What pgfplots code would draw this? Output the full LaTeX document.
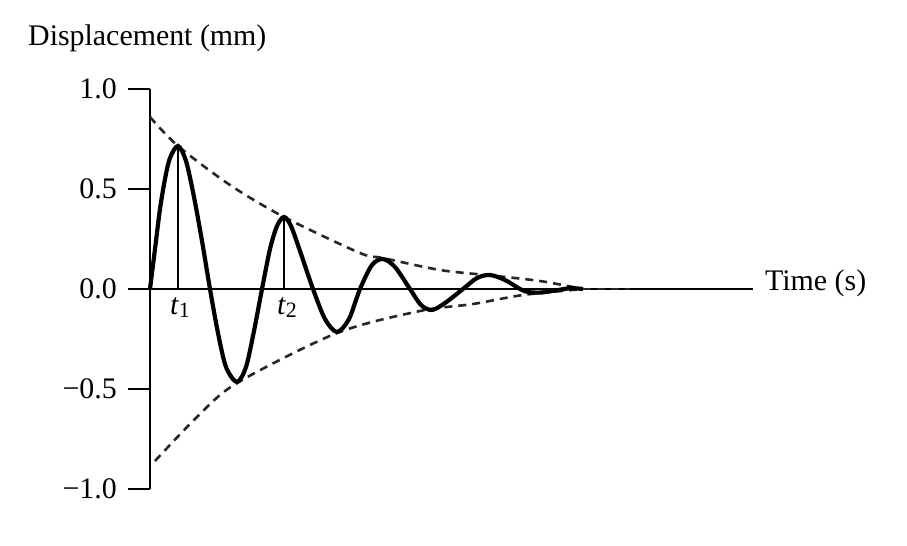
\documentclass[border=0pt]{standalone}
\usepackage{pgfplots}
\pgfplotsset{compat=1.18}
\usepackage{fontspec}
\setmainfont{Liberation Serif}
\begin{document}
\begin{tikzpicture}[font=\fontsize{30}{36}\selectfont]
\path[use as bounding box] (0,0) rectangle (907bp,-546bp);
\node[anchor=base west, inner sep=0] at (28bp,-45bp) {Displacement (mm)};
\begin{axis}[
  anchor=south west, at={(150bp,-489bp)},
  x=1bp, y=200bp,
  xmin=0, xmax=603, ymin=-1, ymax=1,
  axis x line=middle, axis y line=left,
  axis line style={-, line width=1.8bp, black},
  every inner x axis line/.append style={-},
  every outer y axis line/.append style={-},
  hide obscured x ticks=false, hide obscured y ticks=false,
  xtick=\empty,
  ytick={-1,-0.5,0,0.5,1},
  yticklabels={−1.0,−0.5,0.0,0.5,1.0},
  tick align=outside, major tick length=22bp,
  tick style={line width=1.8bp, black},
  yticklabel style={anchor=east, inner sep=0pt, xshift=-11bp},
  clip=false,
]
% envelope (dashed)
\addplot[black!85, line width=2.6bp, dash pattern=on 8bp off 6bp, smooth] coordinates {
 (0,0.86) (28,0.715) (80,0.52) (134,0.36) (210,0.18) (233,0.155) (290,0.095) (340,0.068) (390,0.04) (433,0.0)};
\addplot[black!85, line width=2.6bp, dash pattern=on 8bp off 6bp, smooth] coordinates {
 (5,-0.86) (47,-0.64) (87,-0.47) (187,-0.22) (270,-0.11) (323,-0.075) (373,-0.03) (433,0.0)};
\addplot[black!85, line width=2.6bp, dash pattern=on 8bp off 6bp] coordinates {(433,0) (480,0)};
% t1, t2 lines
\addplot[black, line width=1.8bp] coordinates {(28,0) (28,0.715)};
\addplot[black, line width=1.8bp] coordinates {(134,0) (134,0.36)};
% damped oscillation
\addplot[black, line width=4.2bp, smooth] coordinates {
 (0,0) (5,0.2) (10,0.4) (15,0.55) (20,0.655) (28,0.715) (36,0.64) (44,0.46) (52,0.24) (60,0)
 (68,-0.22) (76,-0.39) (87,-0.465) (96,-0.39) (104,-0.21) (112,0)
 (120,0.2) (127,0.315) (134,0.36) (141,0.315) (150,0.19) (163,0)
 (175,-0.15) (187,-0.215) (199,-0.15) (210,0)
 (222,0.12) (233,0.15) (245,0.11) (260,0)
 (271,-0.08) (282,-0.105) (295,-0.07) (313,0)
 (327,0.055) (340,0.07) (355,0.045) (370,0)
 (378,-0.015) (390,-0.018) (405,-0.008) (420,0.004) (433,0)};
\node[anchor=north, inner sep=0] at (axis cs:30,-0.04) {\textit{t}\raisebox{-0.25ex}{\fontsize{22}{24}\selectfont 1}};
\node[anchor=north, inner sep=0] at (axis cs:137,-0.04) {\textit{t}\raisebox{-0.25ex}{\fontsize{22}{24}\selectfont 2}};
\node[anchor=west, inner sep=0] at (axis cs:615,0.03) {Time (s)};
\end{axis}
\end{tikzpicture}
\end{document}
